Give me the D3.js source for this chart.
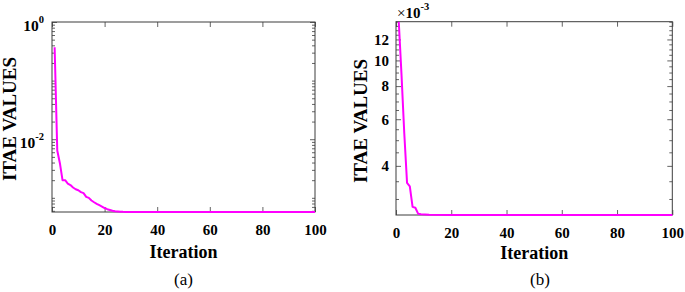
<!DOCTYPE html>
<html>
<head>
<meta charset="utf-8">
<script src="https://cdn.jsdelivr.net/npm/d3@7"></script>
<style>
  body { margin: 0; background: #fff; }
  svg { display: block; }
  svg text { font-family: "Liberation Serif", "Times New Roman", Times, serif; }
</style>
</head>
<body>
<div id="chart"></div>
<script>
// --- Data ---
// (a) convergence on log scale, only the iterations where the curve moves + last point
const iterA = [1, 2, 3, 4, 5, 6, 7, 8, 9, 10, 11, 12, 13, 14, 15, 16, 17, 18, 19, 20, 21, 22, 23, 24, 25, 26, 27, 28, 29, 100];
const itaeA = [0.37, 6.4e-3, 3.9e-3, 2.0e-3, 2.0e-3, 1.75e-3, 1.65e-3, 1.5e-3, 1.4e-3, 1.35e-3,
               1.25e-3, 1.2e-3, 1.04e-3, 1.0e-3, 9.0e-4, 8.4e-4, 7.9e-4, 7.5e-4, 7.1e-4, 6.7e-4,
               6.4e-4, 6.2e-4, 6.0e-4, 5.9e-4, 5.85e-4, 5.8e-4, 5.76e-4, 5.74e-4, 5.73e-4, 5.73e-4];

// (b) convergence, values x10^-3
const iterB = [1, 2, 3, 4, 5, 6, 7, 8, 9, 12, 20, 100];
const itaeB = [14.0e-3, 8.8e-3, 5.3e-3, 3.45e-3, 3.35e-3, 2.8e-3, 2.78e-3, 2.64e-3, 2.625e-3, 2.615e-3, 2.61e-3, 2.61e-3];

const xTicks = [0, 20, 40, 60, 80, 100];
const yTicksA = [1, 1e-2];
const yLabelsA = ["0", "-2"];          // exponents of 10
const yTicksB = [4e-3, 6e-3, 8e-3, 10e-3, 12e-3];
const yLabelsB = ["4", "6", "8", "10", "12"];
const yMinorB = [3, 3.5, 4.5, 5, 5.5, 6.5, 7, 7.5, 8.5, 9, 9.5, 10.5, 11, 11.5, 12.5, 13, 13.5, 14];

// --- Setup ---
const W = 685, H = 292;
const FONT = "Liberation Serif, Times New Roman, Times, serif";
const AXIS_COL = "#3c3c3c";

const svg = d3.select("#chart").append("svg")
  .attr("width", W)
  .attr("height", H);

// minor ticks for panel (a): k*10^n, skipping the labelled decades
const yMinorA = [];
for (let n = -4; n <= 0; n++) {
  for (let k = 1; k <= 9; k++) {
    const v = k * Math.pow(10, n);
    if (v <= 1 && v >= 5.7e-4 && !yTicksA.some(t => Math.abs(t - v) < 1e-12)) yMinorA.push(v);
  }
}

function panel(cfg) {
  const { left, right, top, bottom } = cfg;
  const x = d3.scaleLinear().domain([0, 100]).range([left, right]);
  const y = d3.scaleLog().domain(cfg.yDomain).range([bottom, top]);
  const g = svg.append("g");

  // minor ticks, left and right, inward
  g.append("g").attr("transform", `translate(${left},0)`)
    .call(d3.axisLeft(y).tickValues(cfg.yMinor).tickSize(-3).tickFormat(""));
  g.append("g").attr("transform", `translate(${right},0)`)
    .call(d3.axisRight(y).tickValues(cfg.yMinor).tickSize(-3).tickFormat(""));

  // major y ticks
  g.append("g").attr("transform", `translate(${left},0)`)
    .call(d3.axisLeft(y).tickValues(cfg.yTicks).tickSize(-5).tickPadding(7)
      .tickFormat((d, i) => cfg.yLabels ? cfg.yLabels[i] : ""));
  g.append("g").attr("transform", `translate(${right},0)`)
    .call(d3.axisRight(y).tickValues(cfg.yTicks).tickSize(-5).tickFormat(""));

  // x ticks bottom and top
  g.append("g").attr("transform", `translate(0,${bottom})`)
    .call(d3.axisBottom(x).tickValues(xTicks).tickSize(-5).tickPadding(12));
  g.append("g").attr("transform", `translate(0,${top})`)
    .call(d3.axisTop(x).tickValues(xTicks).tickSize(-5).tickFormat(""));

  g.selectAll(".domain").remove();
  g.selectAll("g").attr("font-family", null);
  g.selectAll(".tick line").attr("stroke", AXIS_COL).attr("stroke-width", 0.8);
  g.selectAll(".tick text")
    .attr("font-size", 15)
    .attr("font-weight", "bold")
    .attr("fill", "#000");

  // frame
  g.append("rect")
    .attr("x", left).attr("y", top)
    .attr("width", right - left).attr("height", bottom - top)
    .attr("fill", "none").attr("stroke", AXIS_COL).attr("stroke-width", 1);

  // curve
  const pts = cfg.iter.map((it, i) => [it, cfg.vals[i]]);
  g.append("path")
    .datum(pts)
    .attr("fill", "none")
    .attr("stroke", "#ff00ff")
    .attr("stroke-width", 2)
    .attr("stroke-linejoin", "round")
    .attr("d", d3.line().x(d => x(d[0])).y(d => y(d[1])));

  // y label
  g.append("text")
    .attr("transform", `translate(${cfg.yLabX},${cfg.yLabY}) rotate(-90)`)
    .attr("text-anchor", "middle")
    .attr("font-size", 19)
    .attr("font-weight", "bold")
    .text("ITAE VALUES");

  // x label
  g.append("text")
    .attr("x", (left + right) / 2)
    .attr("y", cfg.xLabY)
    .attr("text-anchor", "middle")
    .attr("font-size", 18)
    .attr("font-weight", "bold")
    .text("Iteration");

  // caption
  g.append("text")
    .attr("x", cfg.capX)
    .attr("y", 285)
    .attr("text-anchor", "middle")
    .attr("font-size", 17)
    .text(cfg.caption);

  return { x, y, g };
}

// --- Panel (a) ---
const pa = panel({
  left: 52, right: 315, top: 22, bottom: 212,
  yDomain: [d3.min(itaeA), 1],
  yTicks: yTicksA, yLabels: null, yMinor: yMinorA,
  iter: iterA, vals: itaeA,
  yLabX: 16, yLabY: 119, xLabY: 258, capX: 183.5, caption: "(a)"
});

// 10^n labels
yTicksA.forEach((t, i) => {
  const ty = pa.y(t);
  const lab = pa.g.append("text")
    .attr("x", 44)
    .attr("y", ty + 8.5)
    .attr("text-anchor", "end")
    .attr("font-weight", "bold")
    .attr("font-size", 15.5);
  lab.append("tspan").text("10");
  lab.append("tspan")
    .attr("font-size", 10.5)
    .attr("dy", -7.5)
    .text(yLabelsA[i]);
});

// --- Panel (b) ---
const pb = panel({
  left: 396, right: 672.3, top: 21.7, bottom: 215,
  yDomain: d3.extent(itaeB),
  yTicks: yTicksB, yLabels: yLabelsB, yMinor: yMinorB.map(v => v * 1e-3),
  iter: iterB, vals: itaeB,
  yLabX: 367, yLabY: 121, xLabY: 259, capX: 540, caption: "(b)"
});

// exponent label
const ex = pb.g.append("text")
  .attr("x", 397)
  .attr("y", 18.3)
  .attr("font-weight", "bold")
  .attr("font-size", 15);
ex.append("tspan").attr("font-weight", "normal").text("\u00d7");
ex.append("tspan").text("10");
ex.append("tspan").attr("font-size", 10.5).attr("dy", -8).text("-3");
</script>
</body>
</html>
